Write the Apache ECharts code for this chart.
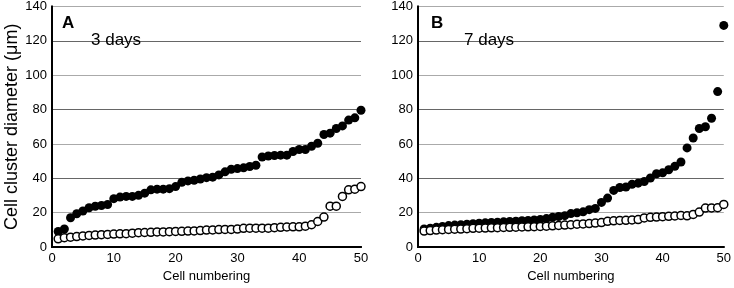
<!DOCTYPE html>
<html>
<head>
<meta charset="utf-8">
<script src="https://cdn.jsdelivr.net/npm/echarts@6/dist/echarts.min.js"></script>
<style>
  html, body { margin: 0; padding: 0; background: #fff; }
  #chart { width: 734px; height: 288px; }
</style>
</head>
<body>
<div id="chart"></div>
<script>
// cell index along x (cells sorted by size)
const cells = [1, 2, 3, 4, 5, 6, 7, 8, 9, 10, 11, 12, 13, 14, 15, 16, 17, 18, 19, 20,
  21, 22, 23, 24, 25, 26, 27, 28, 29, 30, 31, 32, 33, 34, 35, 36, 37, 38, 39, 40,
  41, 42, 43, 44, 45, 46, 47, 48, 49, 50];

// panel A - 3 days
const day3Filled = [9.1, 10.5, 17.1, 19.4, 21, 22.9, 23.8, 24.2, 24.8, 28.2,
  29.1, 29.5, 29.5, 30.1, 31.4, 33.3, 33.7, 33.7, 34, 35.2,
  37.7, 38.5, 38.9, 39.6, 40.4, 40.7, 42, 43.8, 45.3, 45.7,
  46.1, 46.9, 47.6, 52.4, 53, 53.3, 53.5, 53.5, 55.6, 56.8,
  56.8, 58.7, 60.4, 65.5, 66.3, 69, 70.5, 73.9, 75.2, 79.6];
const day3Open = [4.8, 5.5, 5.8, 6.1, 6.5, 6.8, 7, 7.2, 7.4, 7.6,
  7.7, 7.8, 8.1, 8.4, 8.5, 8.6, 8.8, 8.8, 9, 9.1,
  9.2, 9.3, 9.4, 9.6, 9.9, 10, 10.2, 10.3, 10.3, 10.5,
  10.9, 11, 11, 11, 11, 11.3, 11.5, 11.7, 11.8, 11.8,
  12.2, 13, 14.9, 17.5, 23.8, 23.8, 29.5, 33.3, 33.7, 35.2];

// panel B - 7 days
const day7Filled = [10.5, 11, 11.5, 12, 12.5, 12.8, 13, 13.3, 13.6, 13.9,
  14.1, 14.3, 14.5, 14.7, 14.9, 15.1, 15.3, 15.5, 15.8, 16.1,
  16.6, 17.3, 17.8, 18.3, 19.5, 20, 20.5, 21.8, 22.5, 26,
  28.5, 33, 34.7, 35, 36.5, 37.2, 38.2, 40.2, 42.7, 43.2,
  45, 47, 49.5, 57.7, 63.5, 69, 70, 75, 90.5, 129];
const day7Open = [9.3, 9.6, 9.9, 10.1, 10.3, 10.4, 10.5, 10.7, 10.9, 11,
  11.1, 11.2, 11.3, 11.4, 11.5, 11.6, 11.7, 11.8, 11.9, 12,
  12.2, 12.4, 12.6, 12.8, 13, 13.3, 13.5, 13.7, 14, 14.3,
  15, 15.3, 15.5, 15.6, 15.8, 16, 17, 17.3, 17.5, 17.7,
  17.9, 18.1, 18.4, 18.2, 19, 20.4, 22.7, 22.8, 22.9, 24.8];

const FONT = 'Liberation Sans';

const pair = (ys) => cells.map((c, i) => [c, ys[i]]);

const chart = echarts.init(document.getElementById('chart'));

const xAxisCfg = (gridIndex) => ({
  type: 'value',
  gridIndex: gridIndex,
  min: 0,
  max: 50,
  interval: 10,
  name: 'Cell numbering',
  nameLocation: 'middle',
  nameGap: 20,
  nameTextStyle: { fontFamily: FONT, fontSize: 13, color: '#000' },
  axisLine: { show: true, lineStyle: { color: '#000', width: 2 } },
  axisTick: { show: false },
  axisLabel: { fontFamily: FONT, fontSize: 13, color: '#000', margin: 5 },
  splitLine: { show: false }
});

// frame lines on top / right of each panel
const xTopCfg = (gridIndex) => ({
  type: 'value', gridIndex: gridIndex, position: 'top', min: 0, max: 50,
  axisLine: { show: true, lineStyle: { color: '#000', width: 2 } },
  axisTick: { show: false }, axisLabel: { show: false }, splitLine: { show: false }
});
const yRightCfg = (gridIndex) => ({
  type: 'value', gridIndex: gridIndex, position: 'right', min: 0, max: 140,
  axisLine: { show: true, lineStyle: { color: '#000', width: 2 } },
  axisTick: { show: false }, axisLabel: { show: false }, splitLine: { show: false }
});

const yAxisCfg = (gridIndex, withName) => ({
  type: 'value',
  gridIndex: gridIndex,
  min: 0,
  max: 140,
  interval: 20,
  name: withName ? 'Cell cluster diameter (\u03bcm)' : '',
  nameLocation: 'middle',
  nameGap: 31,
  nameTextStyle: { fontFamily: FONT, fontSize: 18, color: '#000' },
  axisLine: { show: true, lineStyle: { color: '#000', width: 2 } },
  axisTick: { show: false },
  axisLabel: { fontFamily: FONT, fontSize: 13, color: '#000', margin: 5 },
  splitLine: { show: true, lineStyle: { color: ['#666', '#aaa'], width: 1 } }
});

const filledSeries = (name, idx, ys) => ({
  name: name,
  type: 'scatter',
  xAxisIndex: idx,
  yAxisIndex: idx,
  data: pair(ys),
  symbol: 'circle',
  symbolSize: 9,
  itemStyle: { color: '#000', opacity: 1 },
  z: 3,
  silent: true
});

const openSeries = (name, idx, ys) => ({
  name: name,
  type: 'scatter',
  xAxisIndex: idx,
  yAxisIndex: idx,
  data: pair(ys),
  symbol: 'circle',
  symbolSize: 8,
  itemStyle: { color: '#fff', borderColor: '#000', borderWidth: 1.5, opacity: 1 },
  z: 4,
  silent: true
});

const option = {
  animation: false,
  backgroundColor: '#fff',
  title: [
    { text: 'A', left: 57, top: 10, textStyle: { fontFamily: FONT, fontSize: 17, fontWeight: 'bold', color: '#000' } },
    { text: '3 days', left: 86, top: 27, textStyle: { fontFamily: FONT, fontSize: 17, fontWeight: 'normal', color: '#000' } },
    { text: 'B', left: 426, top: 10, textStyle: { fontFamily: FONT, fontSize: 17, fontWeight: 'bold', color: '#000' } },
    { text: '7 days', left: 459, top: 27, textStyle: { fontFamily: FONT, fontSize: 17, fontWeight: 'normal', color: '#000' } }
  ],
  grid: [
    { left: 52, right: 373, top: 5, bottom: 38 },
    { left: 418, right: 8, top: 5, bottom: 38 }
  ],
  xAxis: [xAxisCfg(0), xAxisCfg(1), xTopCfg(0), xTopCfg(1)],
  yAxis: [yAxisCfg(0, true), yAxisCfg(1, false), yRightCfg(0), yRightCfg(1)],
  series: [
    filledSeries('3 days filled', 0, day3Filled),
    openSeries('3 days open', 0, day3Open),
    filledSeries('7 days filled', 1, day7Filled),
    openSeries('7 days open', 1, day7Open)
  ]
};

chart.setOption(option);
</script>
</body>
</html>
